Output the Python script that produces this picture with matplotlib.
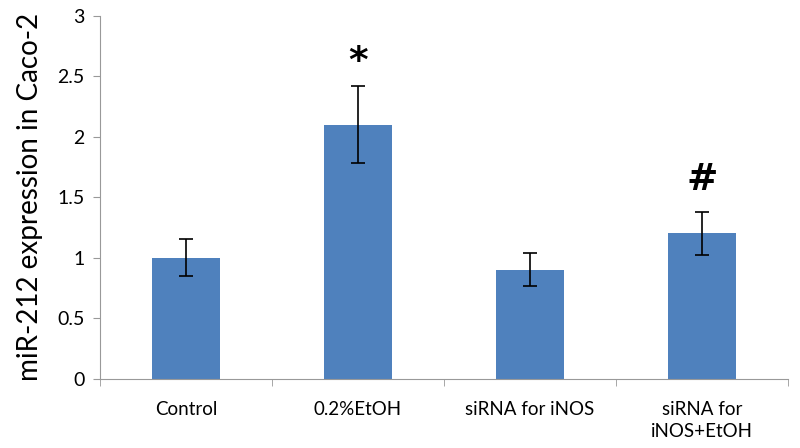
import numpy as np
import matplotlib
matplotlib.use("Agg")
import matplotlib.pyplot as plt

categories = ["Control", "0.2%EtOH", "siRNA for iNOS", "siRNA for\niNOS+EtOH"]
values = [1.0, 2.1, 0.9, 1.2]
errors = [0.15, 0.315, 0.135, 0.18]
marks = ["", "*", "", "#"]
mark_y = [None, 2.62, None, 1.64]

plt.rcParams['font.family'] = ['Lato', 'DejaVu Sans']

fig = plt.figure(figsize=(8, 4.48), dpi=100)
ax = fig.add_axes([0.125, 0.155, 0.86, 0.81])

x = np.arange(len(categories))
ax.bar(x, values, width=0.4, color='#4f81bd', yerr=errors,
       error_kw=dict(ecolor='black', elinewidth=1.2, capsize=5, capthick=1.2))

for xi, m, my in zip(x, marks, mark_y):
    if m:
        ax.text(xi, my, m, ha='center', va='center', fontsize=27,
                fontweight='bold', family='DejaVu Sans')

ax.set_xlim(-0.5, len(categories) - 0.5)
ax.set_ylim(0, 3)
ax.set_yticks([0, 0.5, 1, 1.5, 2, 2.5, 3])
ax.set_yticklabels(['0', '0.5', '1', '1.5', '2', '2.5', '3'])
ax.set_xticks(x)
ax.set_xticklabels(categories, fontsize=13.5, linespacing=1.4)
ax.set_xticks(np.arange(-0.5, len(categories)), minor=True)
ax.tick_params(axis='x', which='major', length=0, pad=16)
ax.tick_params(axis='x', which='minor', length=5, color='#999999')
ax.tick_params(axis='y', length=5, color='#999999', labelsize=14, pad=6)

for s in ['top', 'right']:
    ax.spines[s].set_visible(False)
for s in ['left', 'bottom']:
    ax.spines[s].set_color('#999999')

ax.set_ylabel('miR-212 expression in Caco-2', fontsize=20, labelpad=10)

fig.savefig('out.png', dpi=100)
